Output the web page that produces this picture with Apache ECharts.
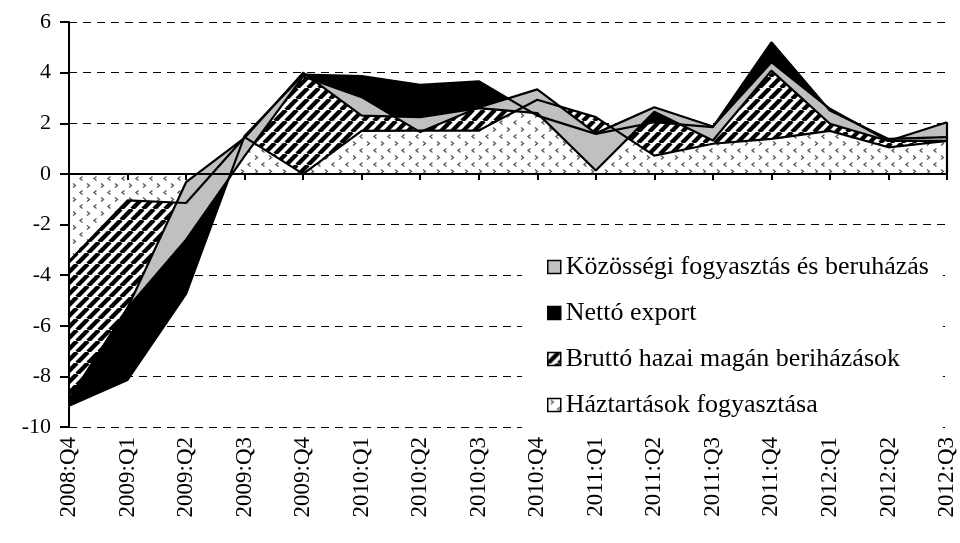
<!DOCTYPE html>
<html>
<head>
<meta charset="utf-8">
<script src="https://cdn.jsdelivr.net/npm/echarts@6/dist/echarts.min.js"></script>
<style>
  html, body { margin: 0; padding: 0; background: #fff; }
  #chart { width: 960px; height: 543px; }
</style>
</head>
<body>
<div id="chart"></div>
<script>
const categories = ['2008:Q4', '2009:Q1', '2009:Q2', '2009:Q3', '2009:Q4', '2010:Q1', '2010:Q2', '2010:Q3',
  '2010:Q4', '2011:Q1', '2011:Q2', '2011:Q3', '2011:Q4', '2012:Q1', '2012:Q2', '2012:Q3']

// contributions, stacked in this order (Excel style stacked area)
const haztartasok = [-3.45, -1.05, -1.15, 1.45, 0.0, 1.7, 1.71, 1.71, 2.93, 2.24, 0.72, 1.19, 1.38, 1.7, 1.05, 1.3]
const brutto = [-5.71, -7.09, -3.59, 0.05, 3.92, 2.16, 1.81, 1.95, -0.63, -0.66, 1.32, 0.66, 3.82, 0.8, 0.33, 0.15]
const netto = [0.21, 2.84, 2.14, -0.8, -0.07, -0.83, -1.87, -1.04, 1.04, 0.02, 0.59, 0.02, -0.79, 0.07, -0.08, -0.15]
const kozossegi = [0.05, 0.0, 2.27, 0.72, 0.15, -0.73, 0.59, -0.02, -0.94, -1.47, -0.18, -0.55, -0.33, -0.59, 0.0, 0.74]

const names = ['Háztartások fogyasztása', 'Bruttó hazai magán beriházások', 'Nettó export', 'Közösségi fogyasztás és beruházás']

const serif = 'Liberation Serif'

function stripePattern() {
  const s = 11
  const c = document.createElement('canvas')
  c.width = s
  c.height = s
  const ctx = c.getContext('2d')
  ctx.fillStyle = '#fff'
  ctx.fillRect(0, 0, s, s)
  ctx.strokeStyle = '#000'
  ctx.lineWidth = 4.4
  for (const k of [-s, 0, s]) {
    ctx.beginPath()
    ctx.moveTo(k, s)
    ctx.lineTo(k + s, 0)
    ctx.stroke()
  }
  return { image: c, repeat: 'repeat' }
}

function dotPattern() {
  const c = document.createElement('canvas')
  c.width = 14
  c.height = 14
  const ctx = c.getContext('2d')
  ctx.fillStyle = '#fff'
  ctx.fillRect(0, 0, 14, 14)
  ctx.strokeStyle = '#555'
  ctx.lineWidth = 1.3
  ctx.beginPath()
  ctx.moveTo(3, 1.5); ctx.lineTo(5.5, 3.5); ctx.lineTo(3, 5.5)
  ctx.moveTo(12.5, 8.5); ctx.lineTo(10, 10.5); ctx.lineTo(12.5, 12.5)
  ctx.stroke()
  return { image: c, repeat: 'repeat' }
}

const fills = [dotPattern(), stripePattern(), '#000', '#c0c0c0']
const values = [haztartasok, brutto, netto, kozossegi]

// closing edge of the areas at the last quarter (from 0 to the highest stacked value)
const last = categories.length - 1
let run = 0
let edgeTop = 0
values.forEach(arr => { run += arr[last]; edgeTop = Math.max(edgeTop, run) })

const chart = echarts.init(document.getElementById('chart'))

chart.setOption({
  animation: false,
  backgroundColor: '#fff',
  grid: { left: 69, right: 13, top: 22, bottom: 116 },
  legend: {
    orient: 'vertical',
    left: 522,
    top: 235,
    padding: [19, 14, 10, 25],
    backgroundColor: '#fff',
    icon: 'rect',
    itemWidth: 13,
    itemHeight: 13,
    itemGap: 20,
    selectedMode: false,
    textStyle: { fontFamily: serif, fontSize: 26, lineHeight: 26, color: '#000' },
    data: [3, 2, 1, 0].map(i => ({
      name: names[i],
      itemStyle: { color: fills[i], borderColor: '#000', borderWidth: 1.5 }
    }))
  },
  xAxis: [{
    type: 'category',
    data: categories,
    boundaryGap: false,
    z: 10,
    axisLine: { onZero: true, lineStyle: { color: '#000', width: 2 } },
    axisTick: { length: 6, interval: 0, lineStyle: { color: '#000', width: 2 } },
    axisLabel: { show: false }
  }, {
    type: 'category',
    data: categories,
    boundaryGap: false,
    position: 'bottom',
    axisLine: { show: false, onZero: false },
    axisTick: { show: false },
    axisLabel: {
      rotate: 90,
      interval: 0,
      margin: 10,
      fontFamily: serif,
      fontSize: 23,
      color: '#000'
    }
  }],
  yAxis: [{
    type: 'value',
    min: -10,
    max: 6,
    interval: 2,
    axisLine: { show: false },
    axisTick: { show: false },
    axisLabel: { show: false },
    splitLine: { lineStyle: { color: '#000', width: 1, type: [8, 6] } }
  }, {
    type: 'value',
    min: -10,
    max: 6,
    interval: 2,
    position: 'left',
    z: 10,
    axisLine: { show: true, onZero: false, lineStyle: { color: '#000', width: 2 } },
    axisTick: { show: true, inside: false, length: 9, lineStyle: { color: '#000', width: 2 } },
    axisLabel: { margin: 18, fontFamily: serif, fontSize: 22, color: '#000' },
    splitLine: { show: false }
  }],
  series: values.map((data, i) => ({
    name: names[i],
    type: 'line',
    stack: 'total',
    stackStrategy: 'all',
    data: data,
    symbol: 'none',
    showSymbol: false,
    lineStyle: { color: '#000', width: 2.2 },
    itemStyle: { color: fills[i] },
    areaStyle: { color: fills[i], opacity: 1 },
    emphasis: { disabled: true },
    markLine: i === values.length - 1 ? {
      silent: true,
      symbol: 'none',
      label: { show: false },
      lineStyle: { color: '#000', width: 2.2, type: 'solid' },
      data: [[{ coord: [categories[last], 0] }, { coord: [categories[last], edgeTop] }]]
    } : undefined
  }))
})
</script>
</body>
</html>
